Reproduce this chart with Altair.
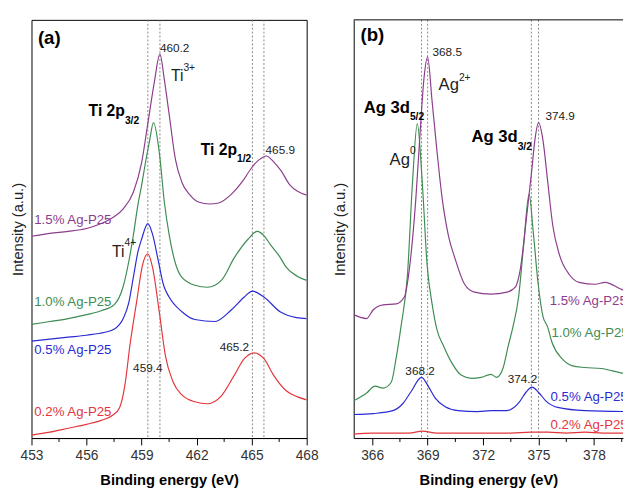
import altair as alt
import pandas as pd

# ---------------- Panel (a): Ti 2p ----------------
a_red_e = [453, 454, 455, 456, 456.8, 457.4, 457.8, 458.1, 458.36, 458.72, 459.07, 459.34, 459.6, 459.97, 460.3, 460.7, 461.2, 461.9, 462.6, 463.35, 464.05, 464.6, 465.13, 465.67, 466.2, 466.9, 467.5, 468]
a_red_v = [3, 6, 10, 14, 18, 23, 31, 55, 94, 138, 178, 188, 174, 128, 84, 58, 44, 37, 35, 43, 64, 81, 87, 81, 64, 48, 42, 39]

a_blue_e = [453, 454, 455, 456, 457, 457.5, 458.0, 458.3, 458.55, 458.8, 459.0, 459.34, 459.6, 459.9, 460.2, 460.5, 461.2, 461.9, 463.0, 463.9, 464.6, 465.04, 465.67, 466.55, 467.44, 468]
a_blue_v = [99, 101, 103, 105, 108, 111, 122, 138, 164, 190, 203, 219, 208, 182, 156, 144, 129, 121, 119, 131, 144, 150, 144, 129, 123, 122]

a_green_e = [453, 454, 455, 456, 456.8, 457.5, 458.0, 458.3, 458.55, 458.8, 459.0, 459.2, 459.43, 459.65, 459.97, 460.24, 460.5, 460.85, 461.2, 461.9, 462.6, 463.35, 464.05, 464.8, 465.3, 465.7, 466.0, 466.5, 466.9, 467.5, 468]
a_green_v = [116, 119, 122, 126, 130, 136, 155, 180, 207, 238, 258, 280, 303, 322, 291, 241, 208, 178, 164, 156, 154, 161, 184, 203, 211, 206, 198, 186, 174, 165, 161]

a_purple_e = [453, 454, 455, 456, 456.8, 457.5, 458, 458.55, 459.0, 459.34, 459.7, 460.0, 460.24, 460.5, 460.85, 461.2, 461.6, 462.1, 462.7, 463.2, 463.9, 464.5, 465.0, 465.4, 465.8, 466.2, 466.6, 467.1, 467.5, 468]
a_purple_v = [206, 209, 211, 214, 219, 226, 234, 251, 281, 321, 364, 392, 366, 331, 284, 261, 249, 241, 239, 240, 249, 262, 276, 284, 288, 282, 273, 258, 252, 248]

a_ref_lines = [459.34, 460.0, 465.04, 465.67]
a_major_ticks = [453, 456, 459, 462, 465, 468]
a_minor_ticks = [454.5, 457.5, 460.5, 463.5, 466.5]

# ---------------- Panel (b): Ag 3d ----------------
b_red_e = [365, 366, 367, 368, 368.7, 369.5, 370.5, 371.5, 372.5, 373.5, 374.6, 375.5, 376.5, 377.5, 378.5, 380]
b_red_v = [4, 5, 5, 5, 7, 5, 5, 5, 5, 5, 6, 6, 5, 6, 5, 5]

b_blue_e = [365, 366.06, 367.12, 367.65, 368.09, 368.67, 369.06, 369.4, 369.95, 370.65, 371.71, 372.42, 373.27, 373.97, 374.33, 374.65, 375.03, 375.39, 376.1, 377.5, 380]
b_blue_v = [24, 25, 28, 35, 47, 62, 52, 41, 32, 28, 27, 28, 28, 37, 47, 52, 46, 38, 31, 28, 27]

b_green_e = [365, 365.7, 366.15, 366.59, 367.03, 367.29, 367.56, 367.91, 368.18, 368.44, 368.71, 368.97, 369.24, 369.5, 369.86, 370.3, 370.83, 371.36, 371.89, 372.42, 372.74, 373.09, 373.36, 373.62, 373.92, 374.18, 374.49, 374.71, 374.98, 375.24, 375.48, 375.74, 376.27, 376.8, 377.5, 378.39, 379.63, 380]
b_green_v = [38, 46, 53, 51, 57, 81, 114, 167, 261, 321, 261, 177, 137, 111, 94, 77, 64, 61, 62, 65, 62, 72, 94, 114, 144, 194, 249, 211, 157, 124, 114, 97, 81, 74, 72, 71, 66, 65]

b_purple_e = [365, 365.7, 366.06, 366.59, 367.3, 367.74, 368.0, 368.36, 368.62, 368.8, 369.0, 369.24, 369.5, 369.77, 370.12, 370.47, 371.0, 371.53, 372.42, 373.3, 373.74, 374.0, 374.36, 374.62, 374.8, 375.0, 375.24, 375.5, 375.77, 376.13, 376.66, 377.19, 378.07, 378.6, 379.6, 380]
b_purple_v = [126, 122, 131, 136, 137, 144, 171, 244, 320, 367, 389, 344, 294, 247, 207, 184, 157, 149, 147, 149, 154, 171, 227, 271, 304, 322, 304, 261, 217, 187, 167, 159, 157, 159, 151, 150]

b_ref_lines = [368.67, 369.0, 374.61, 375.0]
b_major_ticks = [366, 369, 372, 375, 378]
b_minor_ticks = [367.5, 370.5, 373.5, 376.5, 379.5]

series_names = ["0.2% Ag-P25", "0.5% Ag-P25", "1.0% Ag-P25", "1.5% Ag-P25"]
series_colors = ["#e3363c", "#2b2bd4", "#3e8c52", "#8c3d8c"]

# sample labels (E, v) per panel, same order as series_names
a_label_e = [453.15, 453.15, 453.15, 453.15]
a_label_v = [27, 90, 139, 223]
b_label_e = [375.65, 375.65, 375.7, 375.6]
b_label_v = [13, 42, 107, 140]

# numeric peak annotations
a_num_text = ["460.2", "465.9", "465.2", "459.4"]
a_num_e = [460.8, 466.56, 464.06, 459.34]
a_num_v = [398, 294, 93, 71]
b_num_text = ["368.5", "374.9", "368.2", "374.2"]
b_num_e = [370.06, 376.17, 368.59, 374.13]
b_num_v = [394, 329, 68, 60]

# main label + sub/superscript: anchor E where main text ends
a_main_text = ["Ti 2p", "Ti 2p"]
a_main_sub = ["3/2", "1/2"]
a_main_e = [458.09, 464.2]
a_main_v = [334, 294]
a_main_sub_v = [324, 285]
b_main_text = ["Ag 3d", "Ag 3d"]
b_main_sub = ["5/2", "3/2"]
b_main_e = [368.04, 373.87]
b_main_v = [337, 307]
b_main_sub_v = [328, 297]

a_ion_text = ["Ti", "Ti"]
a_ion_sup = ["3+", "4+"]
a_ion_e = [461.28, 458.07]
a_ion_v = [370, 190]
a_ion_sup_v = [378, 199]
b_ion_text = ["Ag", "Ag"]
b_ion_sup = ["2+", "0"]
b_ion_e = [370.69, 368.04]
b_ion_v = [360, 284]
b_ion_sup_v = [368, 293]

a_tag = ("(a)", 453.35, 408)
b_tag = ("(b)", 365.37, 411)

FONT = "Liberation Sans"
W_A, W_B, H = 281, 275, 427
YMAX = 427


def spectra_df(groups):
    rows = []
    for name, es, vs in groups:
        for e, v in zip(es, vs):
            rows.append({"E": e, "v": v, "s": name})
    return pd.DataFrame(rows)


def text_layer(x_scale, es, vs, texts, size, weight="normal", align="center",
               color="#222222", colors=None):
    df = pd.DataFrame({"E": es, "v": vs, "t": texts,
                       "c": colors if colors else [color] * len(texts)})
    return alt.Chart(df).mark_text(
        font=FONT, fontSize=size, fontWeight=weight, align=align, baseline="middle",
        clip=True
    ).encode(
        x=alt.X("E:Q", scale=x_scale),
        y=alt.Y("v:Q", scale=alt.Scale(domain=[0, YMAX])),
        text="t:N",
        color=alt.Color("c:N", scale=None),
    )


def panel(groups, domain, width, major, minor, refs, lab_e, lab_v,
          num_t, num_e, num_v, main_t, main_sub, main_e, main_v, main_sub_v,
          ion_t, ion_sup, ion_e, ion_v, ion_sup_v, tag, main_size, ion_size,
          open_right=False):
    xs = alt.Scale(domain=domain, nice=False, zero=False)
    ys = alt.Scale(domain=[0, YMAX])
    df = spectra_df(groups)

    lines = alt.Chart(df).mark_line(strokeWidth=1.2, clip=True, interpolate="monotone").encode(
        x=alt.X("E:Q", scale=xs,
                axis=alt.Axis(values=major, title="Binding energy (eV)", grid=False,
                              tickSize=7, tickColor="black", domainColor="black",
                              labelFontSize=14, labelColor="#333333", labelFont=FONT,
                              labelPadding=4, titleFont=FONT, titleFontSize=15,
                              titleFontWeight="bold", titleColor="black",
                              titlePadding=10, labelFlush=False)),
        y=alt.Y("v:Q", scale=ys,
                axis=alt.Axis(labels=False, ticks=False, domain=open_right,
                              domainColor="black", grid=False,
                              title="Intensity (a.u.)", titleFont=FONT,
                              titleFontSize=15, titleFontWeight="normal",
                              titleColor="#222222", titlePadding=6)),
        color=alt.Color("s:N", scale=alt.Scale(domain=series_names, range=series_colors),
                        legend=None),
        detail="s:N",
    )

    ref = alt.Chart(pd.DataFrame({"E": refs})).mark_rule(
        strokeDash=[2, 2], color="#777777", strokeWidth=0.9
    ).encode(x=alt.X("E:Q", scale=xs))

    minor_t = alt.Chart(pd.DataFrame({"E": minor})).mark_rule(
        color="black", strokeWidth=1
    ).encode(x=alt.X("E:Q", scale=xs), y=alt.value(H), y2=alt.value(H + 4))

    layers = [ref, lines, minor_t]
    if open_right:
        # top border of the frame (the right side runs off the picture)
        layers.append(alt.Chart(pd.DataFrame({"k": [0]})).mark_rule(
            color="black", strokeWidth=1
        ).encode(x=alt.value(0), x2=alt.value(width), y=alt.value(0)))
    layers.append(text_layer(xs, lab_e, lab_v, series_names, 13.5, align="left",
                             colors=series_colors))
    layers.append(text_layer(xs, num_e, num_v, num_t, 12))
    layers.append(text_layer(xs, main_e, main_v, main_t, main_size, weight="bold",
                             align="right", color="black"))
    layers.append(text_layer(xs, main_e, main_sub_v, main_sub, 10.5, weight="bold",
                             align="left", color="black"))
    layers.append(text_layer(xs, ion_e, ion_v, ion_t, ion_size, align="right"))
    layers.append(text_layer(xs, ion_e, ion_sup_v, ion_sup, 10.5, align="left"))
    layers.append(text_layer(xs, [tag[1]], [tag[2]], [tag[0]], 19, weight="bold",
                             align="left", color="black"))
    props = dict(width=width, height=H)
    if open_right:
        props["view"] = alt.ViewBackground(stroke="transparent")
    else:
        props["view"] = alt.ViewBackground(stroke="black", strokeWidth=1)
    return alt.layer(*layers).properties(**props)


pa = panel(
    [("0.2% Ag-P25", a_red_e, a_red_v), ("0.5% Ag-P25", a_blue_e, a_blue_v),
     ("1.0% Ag-P25", a_green_e, a_green_v), ("1.5% Ag-P25", a_purple_e, a_purple_v)],
    [453, 468], W_A, a_major_ticks, a_minor_ticks, a_ref_lines, a_label_e, a_label_v,
    a_num_text, a_num_e, a_num_v, a_main_text, a_main_sub, a_main_e, a_main_v, a_main_sub_v,
    a_ion_text, a_ion_sup, a_ion_e, a_ion_v, a_ion_sup_v, a_tag, 16, 16)

pb = panel(
    [("0.2% Ag-P25", b_red_e, b_red_v), ("0.5% Ag-P25", b_blue_e, b_blue_v),
     ("1.0% Ag-P25", b_green_e, b_green_v), ("1.5% Ag-P25", b_purple_e, b_purple_v)],
    [365, 379.57], W_B, b_major_ticks, b_minor_ticks, b_ref_lines, b_label_e, b_label_v,
    b_num_text, b_num_e, b_num_v, b_main_text, b_main_sub, b_main_e, b_main_v, b_main_sub_v,
    b_ion_text, b_ion_sup, b_ion_e, b_ion_v, b_ion_sup_v, b_tag, 17, 17, open_right=True)

chart = alt.hconcat(pa, pb, spacing=13).resolve_scale(
    x="independent", y="independent", color="independent"
).properties(
    padding={"left": 2, "top": 6, "right": 0, "bottom": 0},
    background="white",
)

chart.save("out.html", embed_options={"renderer": "svg", "actions": False})
